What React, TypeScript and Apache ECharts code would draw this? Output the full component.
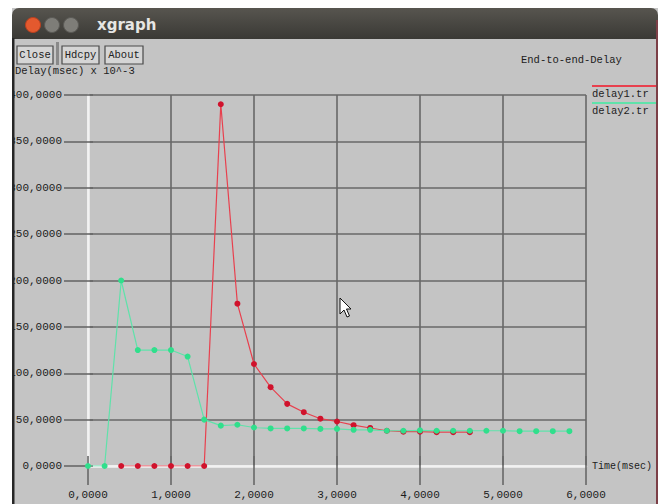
import React, { useEffect, useRef } from "react";
import * as echarts from "echarts";

// ---- data ----
const xTickValues = [0, 1, 2, 3, 4, 5, 6];
const yTickValues = [0, 50, 100, 150, 200, 250, 300, 350, 400];

const delay1Time = [0.4, 0.6, 0.8, 1.0, 1.2, 1.4, 1.6, 1.8, 2.0, 2.2, 2.4, 2.6, 2.8, 3.0, 3.2, 3.4, 3.6, 3.8, 4.0, 4.2, 4.4, 4.6];
const delay1Values = [0, 0, 0, 0, 0, 0, 390, 175, 110, 85, 67, 58, 51, 48, 44, 41, 38, 37, 37, 36.5, 36.5, 36.5];

const delay2Time = [0, 0.2, 0.4, 0.6, 0.8, 1.0, 1.2, 1.4, 1.6, 1.8, 2.0, 2.2, 2.4, 2.6, 2.8, 3.0, 3.2, 3.4, 3.6, 3.8, 4.0, 4.2, 4.4, 4.6, 4.8, 5.0, 5.2, 5.4, 5.6, 5.8];
const delay2Values = [0, 0, 200, 125, 125, 125, 118, 50, 43.5, 44.5, 41.5, 40.5, 40.5, 40.5, 40, 40, 39, 39, 38, 38, 38.5, 38, 38, 38, 38, 38, 37.5, 37.5, 37.5, 37.5];

const seriesNames = ["delay1.tr", "delay2.tr"];
const chartTitle = "End-to-end-Delay";
const xAxisTitle = "Time(msec)";
const yAxisTitle = "Delay(msec) x 10^-3";
const windowTitle = "xgraph";
const buttonLabels = ["Close", "Hdcpy", "About"];

const fmt = (v: number) => v.toFixed(4).replace(".", ",");

const MONO = "'Liberation Mono', 'DejaVu Sans Mono', monospace";
const GRID = "#686868";
const ZERO = "#f2f2f2";
const RED_LINE = "#e8404e";
const RED_DOT = "#d0122c";
const GREEN_LINE = "#5fe2aa";
const GREEN_DOT = "#30df8c";

export default function App() {
  const ref = useRef<HTMLDivElement>(null);
  useEffect(() => {
    if (!ref.current) return;
    const chart = echarts.init(ref.current, null, { renderer: "svg" });

    const buttonBoxes = [
      { x: 17, w: 36 },
      { x: 62, w: 37 },
      { x: 105, w: 38 },
    ];

    const fg = 100;
    const elements: any[] = [
      // y axis unit text (just under the buttons)
      {
        type: "text", z: fg - 1,
        style: { text: yAxisTitle, x: 15, y: 70.5, fill: "#222", font: `10.5px ${MONO}`, verticalAlign: "middle" },
      },
      // buttons
      ...buttonLabels.map((b, i) => ({
        type: "group", z: fg,
        children: [
          {
            type: "rect", z: fg,
            shape: { x: buttonBoxes[i].x, y: 46, width: buttonBoxes[i].w, height: 18 },
            style: { fill: "#d5d5d5", stroke: "#4a4a4a", lineWidth: 1.2 },
          },
          {
            type: "text", z: fg + 1,
            style: {
              text: b, x: buttonBoxes[i].x + buttonBoxes[i].w / 2, y: 55,
              fill: "#222", font: `10.5px ${MONO}`, align: "center", verticalAlign: "middle",
            },
          },
        ],
      })),
      { type: "rect", z: fg, shape: { x: 56, y: 42, width: 3, height: 23 }, style: { fill: "#8a8a8a" } },
      // legend
      { type: "line", z: fg, shape: { x1: 592, y1: 86, x2: 656, y2: 86 }, style: { stroke: RED_LINE, lineWidth: 2 } },
      { type: "text", z: fg, style: { text: seriesNames[0], x: 592, y: 94, fill: "#222", font: `10.5px ${MONO}`, verticalAlign: "middle" } },
      { type: "line", z: fg, shape: { x1: 592, y1: 103, x2: 656, y2: 103 }, style: { stroke: GREEN_LINE, lineWidth: 2 } },
      { type: "text", z: fg, style: { text: seriesNames[1], x: 592, y: 111, fill: "#222", font: `10.5px ${MONO}`, verticalAlign: "middle" } },
      // mouse cursor
      {
        type: "polygon", z: fg,
        shape: { points: [[340, 298], [340, 314], [344, 310], [347, 317], [349.5, 316], [346.5, 309], [351, 309]] },
        style: { fill: "#ffffff", stroke: "#111", lineWidth: 1 },
      },
      // window chrome: white page margins
      { type: "rect", z: fg + 5, shape: { x: 0, y: 0, width: 12, height: 504 }, style: { fill: "#ffffff" } },
      { type: "rect", z: fg + 5, shape: { x: 658, y: 0, width: 12, height: 504 }, style: { fill: "#ffffff" } },
      { type: "rect", z: fg + 5, shape: { x: 0, y: 0, width: 670, height: 8 }, style: { fill: "#ffffff" } },
      // title bar
      {
        type: "rect", z: fg + 6,
        shape: { x: 12, y: 8, width: 646, height: 31, r: [7, 7, 0, 0] },
        style: {
          fill: new echarts.graphic.LinearGradient(0, 0, 0, 1, [
            { offset: 0, color: "#57554f" },
            { offset: 1, color: "#3a3935" },
          ]),
        },
      },
      { type: "circle", z: fg + 7, shape: { cx: 33, cy: 25, r: 7.5 }, style: { fill: "#e4592e", stroke: "#b8401f", lineWidth: 1 } },
      { type: "circle", z: fg + 7, shape: { cx: 52, cy: 25, r: 7.5 }, style: { fill: "#7e7d78", stroke: "#5a5955", lineWidth: 1 } },
      { type: "circle", z: fg + 7, shape: { cx: 71, cy: 25, r: 7.5 }, style: { fill: "#7e7d78", stroke: "#5a5955", lineWidth: 1 } },
      {
        type: "text", z: fg + 7,
        style: { text: windowTitle, x: 97, y: 25, fill: "#e6e6e4", font: `bold 15px 'DejaVu Sans', sans-serif`, verticalAlign: "middle" },
      },
      // window borders
      { type: "rect", z: fg + 6, shape: { x: 12, y: 38, width: 2.5, height: 466 }, style: { fill: "#262626" } },
      { type: "rect", z: fg + 6, shape: { x: 656, y: 20, width: 2, height: 484 }, style: { fill: "#7c3f47" } },
    ];

    const axisLabelStyle = { fontFamily: MONO, fontSize: 11, color: "#1c1c1c" };

    chart.setOption({
      animation: false,
      backgroundColor: "#c4c4c4",
      title: {
        text: chartTitle,
        left: 521,
        top: 54,
        padding: 0,
        textStyle: { fontFamily: MONO, fontSize: 10.5, fontWeight: "normal", color: "#1c1c1c" },
      },
      grid: { left: 88, right: 84, top: 95, bottom: 38, outerBoundsMode: "none" },
      xAxis: [
        {
          type: "value",
          min: xTickValues[0],
          max: xTickValues[xTickValues.length - 1],
          interval: 1,
          name: xAxisTitle,
          nameLocation: "end",
          nameGap: 6,
          nameTextStyle: { fontFamily: MONO, fontSize: 10, color: "#1c1c1c", padding: [38, 0, 0, 0], verticalAlign: "middle" },
          axisLine: { show: true, lineStyle: { color: ZERO, width: 2.5 } },
          axisTick: { show: true, length: 19, lineStyle: { color: GRID, width: 1.6 } },
          axisLabel: { ...axisLabelStyle, margin: 23, formatter: (v: number) => fmt(v) },
          splitLine: {
            show: true,
            lineStyle: { color: xTickValues.map((_, i) => (i === 0 ? ZERO : GRID)), width: 1.6 },
          },
        },
        {
          type: "value",
          position: "top",
          min: xTickValues[0],
          max: xTickValues[xTickValues.length - 1],
          interval: 1,
          axisLine: { show: false },
          axisTick: { show: true, length: 10, lineStyle: { color: GRID, width: 1.6 } },
          axisLabel: { show: false },
          splitLine: { show: false },
        },
      ],
      yAxis: [
        {
          type: "value",
          min: yTickValues[0],
          max: yTickValues[yTickValues.length - 1],
          interval: 50,
          axisLine: { show: true, lineStyle: { color: ZERO, width: 2.5 } },
          axisTick: { show: true, length: 24, lineStyle: { color: GRID, width: 1.6 } },
          axisLabel: { ...axisLabelStyle, margin: 26, formatter: (v: number) => fmt(v) },
          splitLine: {
            show: true,
            lineStyle: { color: yTickValues.map((_, i) => (i === 0 ? ZERO : GRID)), width: 1.6 },
          },
        },
        {
          type: "value",
          position: "right",
          min: yTickValues[0],
          max: yTickValues[yTickValues.length - 1],
          interval: 50,
          axisLine: { show: false },
          axisTick: { show: true, length: 5, lineStyle: { color: GRID, width: 1.6 } },
          axisLabel: { show: false },
          splitLine: { show: false },
        },
      ],
      series: [
        {
          name: seriesNames[0],
          type: "line",
          data: delay1Time.map((t, i) => [t, delay1Values[i]]),
          symbol: "circle",
          symbolSize: 6,
          lineStyle: { color: RED_LINE, width: 1.2 },
          itemStyle: { color: RED_DOT },
        },
        {
          name: seriesNames[1],
          type: "line",
          data: delay2Time.map((t, i) => [t, delay2Values[i]]),
          symbol: "circle",
          symbolSize: 6,
          lineStyle: { color: GREEN_LINE, width: 1.2 },
          itemStyle: { color: GREEN_DOT },
        },
      ],
      graphic: { elements },
    });

    return () => chart.dispose();
  }, []);

  return (
    <div
      ref={ref}
      style={{ position: "fixed", left: 0, top: 0, width: 670, height: 504 }}
    />
  );
}
